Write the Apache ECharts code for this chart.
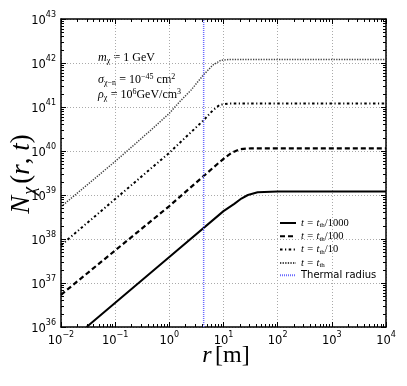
<!DOCTYPE html>
<html>
<head>
<meta charset="utf-8">
<script src="https://cdn.jsdelivr.net/npm/echarts@6/dist/echarts.min.js"></script>
<style>
  html, body { margin: 0; padding: 0; background: #fff; }
  #chart { width: 407px; height: 386px; }
</style>
</head>
<body>
<div id="chart"></div>
<script>
// decades shown on the axes
const xDecades = [-2, -1, 0, 1, 2, 3, 4]
const yDecades = [36, 37, 38, 39, 40, 41, 42, 43]

// curves: [r in m, N]
const solid1000 = [[0.0297, 1e36], [1, 3.9e37], [10, 4.3e38], [15.8, 6.3e38], [21.4, 8.3e38], [28.2, 1e39], [42.7, 1.15e39], [100, 1.2e39], [1e4, 1.2e39]]
const dashed100 = [[0.01, 5.4e36], [1, 5.6e38], [4.3, 2.7e39], [7.9, 5.2e39], [11.2, 7.4e39], [14.1, 9.1e39], [20, 1.1e40], [32, 1.15e40], [1e4, 1.15e40]]
const dashdot10 = [[0.01, 7.2e37], [1, 9.1e39], [4.3, 5e40], [6.3, 8.3e40], [8.5, 1.12e41], [12.6, 1.2e41], [1e4, 1.2e41]]
const dottedTh = [[0.01, 5.4e38], [0.1, 5.8e39], [0.174, 1.05e40], [0.5, 3.3e40], [1, 7.2e40], [1.55, 1.32e41], [2.5, 2.4e41], [4.3, 5.4e41], [6.3, 8.9e41], [8.9, 1.15e42], [12.6, 1.2e42], [1e4, 1.2e42]]
const thermalR = [[4.3, 1e36], [4.3, 1e43]]

const MINUS = '\u2212'
const serif = 'Liberation Serif'

// minor tick positions 2..9 x 10^d
const minorTicks = (decs) => {
  const out = []
  for (let i = 0; i < decs.length - 1; i++) {
    for (let k = 2; k <= 9; k++) out.push(k * Math.pow(10, decs[i]))
  }
  return out
}
const majorTicks = (decs) => decs.map(d => Math.pow(10, d))

const powLabel = (v) => {
  const e = Math.round(Math.log10(v))
  return '{b|10}{sup|' + (e < 0 ? MINUS + (-e) : e) + '}'
}
const labelRich = {
  b: { fontFamily: 'DejaVu Sans', fontSize: 11.5, color: '#000', verticalAlign: 'bottom', lineHeight: 16 },
  sup: { fontFamily: 'DejaVu Sans', fontSize: 8, color: '#000', verticalAlign: 'top', lineHeight: 16 }
}
const textRich = {
  i: { fontFamily: serif, fontStyle: 'italic', fontSize: 12, color: '#000', lineHeight: 14, verticalAlign: 'middle' },
  n: { fontFamily: serif, fontSize: 12, color: '#000', lineHeight: 14, verticalAlign: 'middle' },
  sub: { fontFamily: serif, fontSize: 8, color: '#000', lineHeight: 14, verticalAlign: 'bottom' },
  sup: { fontFamily: serif, fontSize: 8, color: '#000', lineHeight: 14, verticalAlign: 'top' }
}
const legendRich = {
  i: { fontFamily: serif, fontStyle: 'italic', fontSize: 10.5, color: '#000', lineHeight: 11, verticalAlign: 'middle' },
  n: { fontFamily: serif, fontSize: 10.5, color: '#000', lineHeight: 11, verticalAlign: 'middle' },
  sub: { fontFamily: serif, fontSize: 7, color: '#000', lineHeight: 11, verticalAlign: 'bottom' },
  s: { fontFamily: 'DejaVu Sans', fontSize: 10, color: '#000', lineHeight: 11, verticalAlign: 'middle' }
}
const legendNames = {
  'th1000': '{i|t} {n|=} {i|t}{sub|th}{n|/1000}',
  'th100': '{i|t} {n|=} {i|t}{sub|th}{n|/100}',
  'th10': '{i|t} {n|=} {i|t}{sub|th}{n|/10}',
  'th': '{i|t} {n|=} {i|t}{sub|th}',
  'Thermal radius': '{s|Thermal radius}'
}

const grid = { left: 61, right: 21, top: 19, bottom: 59 }

const xAxisBase = { type: 'log', logBase: 10, min: 0.01, max: 1e4, gridIndex: 0 }
const yAxisBase = { type: 'log', logBase: 10, min: 1e36, max: 1e43, gridIndex: 0 }
const hidden = { axisLine: { show: false }, axisLabel: { show: false }, splitLine: { show: false } }

const xAxes = [
  {
    ...xAxisBase, position: 'bottom',
    axisLine: { lineStyle: { color: '#000', width: 1.5 } },
    axisTick: { inside: true, length: 5, lineStyle: { color: '#000', width: 1 }, customValues: majorTicks(xDecades) },
    axisLabel: { formatter: powLabel, rich: labelRich, margin: 4, customValues: majorTicks(xDecades) },
    splitLine: { show: true, lineStyle: { color: '#aaa', width: 1, type: [1, 2] } }
  },
  { ...xAxisBase, ...hidden, position: 'bottom', axisTick: { inside: true, length: 3, lineStyle: { color: '#000' }, customValues: minorTicks(xDecades) } },
  {
    ...xAxisBase, position: 'top',
    axisLine: { lineStyle: { color: '#000', width: 1.5 } },
    axisLabel: { show: false }, splitLine: { show: false },
    axisTick: { inside: true, length: 5, lineStyle: { color: '#000' }, customValues: majorTicks(xDecades) }
  },
  { ...xAxisBase, ...hidden, position: 'top', axisTick: { inside: true, length: 3, lineStyle: { color: '#000' }, customValues: minorTicks(xDecades) } }
]
const yAxes = [
  {
    ...yAxisBase, position: 'left',
    axisLine: { lineStyle: { color: '#000', width: 1.5 } },
    axisTick: { inside: true, length: 5, lineStyle: { color: '#000', width: 1 }, customValues: majorTicks(yDecades) },
    axisLabel: { formatter: powLabel, rich: labelRich, margin: 5, customValues: majorTicks(yDecades) },
    splitLine: { show: true, lineStyle: { color: '#aaa', width: 1, type: [1, 2] } }
  },
  { ...yAxisBase, ...hidden, position: 'left', axisTick: { inside: true, length: 3, lineStyle: { color: '#000' }, customValues: minorTicks(yDecades) } },
  {
    ...yAxisBase, position: 'right',
    axisLine: { lineStyle: { color: '#000', width: 1.5 } },
    axisLabel: { show: false }, splitLine: { show: false },
    axisTick: { inside: true, length: 5, lineStyle: { color: '#000' }, customValues: majorTicks(yDecades) }
  },
  { ...yAxisBase, ...hidden, position: 'right', axisTick: { inside: true, length: 3, lineStyle: { color: '#000' }, customValues: minorTicks(yDecades) } }
]

const lineSeries = (name, data, lineStyle) => ({
  name, type: 'line', data, symbol: 'none', smooth: false, silent: true,
  xAxisIndex: 0, yAxisIndex: 0, lineStyle, itemStyle: { color: lineStyle.color }, animation: false
})

const chart = echarts.init(document.getElementById('chart'))
chart.setOption({
  animation: false,
  grid,
  xAxis: xAxes,
  yAxis: yAxes,
  legend: {
    orient: 'vertical', left: 274, top: 212,
    itemWidth: 16, itemHeight: 8, itemGap: 1.3,
    itemStyle: { opacity: 0 },
    data: ['th1000', 'th100', 'th10', 'th', 'Thermal radius'],
    formatter: (name) => legendNames[name],
    textStyle: { rich: legendRich }
  },
  series: [
    lineSeries('th1000', solid1000, { color: '#000', width: 2, type: 'solid' }),
    lineSeries('th100', dashed100, { color: '#000', width: 2.2, type: [5, 3] }),
    lineSeries('th10', dashdot10, { color: '#000', width: 2, type: [2.5, 2.5, 1.2, 2.5] }),
    lineSeries('th', dottedTh, { color: '#444', width: 1.5, type: [1.3, 1.3] }),
    lineSeries('Thermal radius', thermalR, { color: '#6a6aff', width: 1.5, type: [1, 1] })
  ],
  graphic: [
    {
      type: 'text', x: 22, y: 174, rotation: Math.PI / 2,
      style: {
        text: '{I|N}{S|χ}{P|(}{I|r}{P|, }{I|t}{P|)}',
        align: 'center', verticalAlign: 'middle',
        rich: {
          I: { fontFamily: serif, fontStyle: 'italic', fontSize: 27, lineHeight: 34, verticalAlign: 'middle' },
          P: { fontFamily: serif, fontSize: 27, lineHeight: 34, verticalAlign: 'middle' },
          S: { fontFamily: serif, fontStyle: 'italic', fontSize: 18, lineHeight: 34, verticalAlign: 'bottom', padding: [0, 3, 0, 1] }
        }
      }
    },
    {
      type: 'text', x: 226, y: 356,
      style: {
        text: '{I|r} {P|[m]}',
        align: 'center', verticalAlign: 'middle',
        rich: {
          I: { fontFamily: serif, fontStyle: 'italic', fontSize: 24 },
          P: { fontFamily: serif, fontSize: 24 }
        }
      }
    },
    {
      type: 'text', x: 98, y: 58,
      style: { text: '{i|m}{sub|χ} {n|= 1 GeV}', verticalAlign: 'middle', rich: textRich }
    },
    {
      type: 'text', x: 98, y: 80,
      style: { text: '{i|σ}{sub|χ' + MINUS + 'n} {n|= 10}{sup|' + MINUS + '45}{n| cm}{sup|2}', verticalAlign: 'middle', rich: textRich }
    },
    {
      type: 'text', x: 98, y: 95,
      style: { text: '{i|ρ}{sub|χ} {n|= 10}{sup|6}{n|GeV/cm}{sup|3}', verticalAlign: 'middle', rich: textRich }
    }
  ]
})
</script>
</body>
</html>
